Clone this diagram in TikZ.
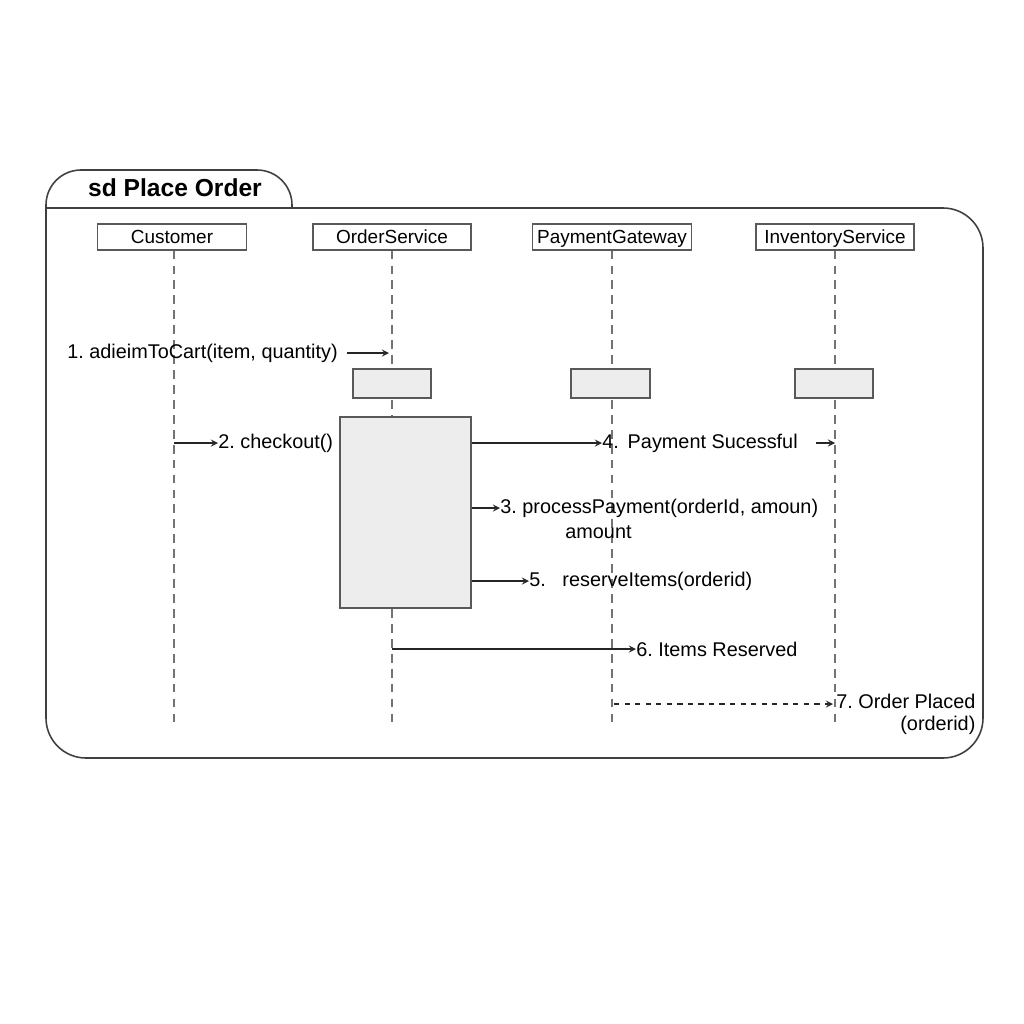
\documentclass[tikz,border=0pt]{standalone}
\usepackage{fontspec}
\setmainfont{Liberation Sans}
\usetikzlibrary{arrows,positioning}
\frenchspacing

\begin{document}
\begin{tikzpicture}[x=0.02cm,y=-0.02cm,>=stealth,
	frame/.style={draw=black!75, line width=0.9pt},
	head/.style={draw=black!65, fill=white, line width=0.7pt, minimum width=#1, minimum height=0.52cm, inner sep=0pt, text height=7.8pt, text depth=0.5pt, font=\fontsize{10.8}{12}\selectfont},
	act/.style={draw=black!65, fill=black!7, line width=0.7pt, inner sep=0pt},
	life/.style={draw=black!55, line width=0.6pt, dash pattern=on 5pt off 3.5pt},
	msg/.style={draw=black!85, line width=0.8pt, ->},
	lbl/.style={anchor=west, inner sep=0pt, font=\fontsize{11.3}{12.5}\selectfont}]
	\useasboundingbox (0,0) rectangle (1024,1024);

	% frame and tab
	\draw [frame, rounded corners=0.7cm] (46,208) -- (46,170) -- (292,170) -- (292,208);
	\draw [frame, rounded corners=0.8cm] (46,208) -- (46,758) -- (983,758) -- (983,208) -- (46,208);
	\node (title) at (175,188) [font=\fontsize{14}{16}\selectfont\bfseries] {sd Place Order};

	% lifelines
	\node (cust) at (172,237) [head=2.98cm] {Customer};
	\node (ordsvc) at (392,237) [head=3.16cm] {OrderService};
	\node (paygw) at (612,237) [head=3.18cm] {PaymentGateway};
	\node (invsvc) at (835,237) [head=3.16cm] {InventoryService};
	\coordinate (cust-end) at (174,725);
	\coordinate (ordsvc-end) at (392,725);
	\coordinate (paygw-end) at (612,725);
	\coordinate (invsvc-end) at (835,725);
	\draw [life] (cust.south -| cust-end) -- (cust-end);
	\draw [life] (ordsvc) -- (ordsvc-end);
	\draw [life] (paygw) -- (paygw-end);
	\draw [life] (invsvc) -- (invsvc-end);

	% activations
	\node (a1) at (392,383.5) [act, minimum width=1.56cm, minimum height=0.58cm] {};
	\node (a2) at (610.5,383.5) [act, minimum width=1.58cm, minimum height=0.58cm] {};
	\node (a3) at (834,383.5) [act, minimum width=1.56cm, minimum height=0.58cm] {};
	\node (a4) at (405.5,512.5) [act, minimum width=2.62cm, minimum height=3.82cm] {};

	% messages
	\node (m1) at (67,353) [lbl] {1. adieimToCart(item, quantity)};
	\coordinate (m1s) at (347,353);
	\coordinate (m1e) at (389,353);
	\draw [msg] (m1s) -- (m1e);

	\coordinate (m2s) at (174,443);
	\node (m2) at (218,443) [lbl] {2. checkout()};
	\draw [msg] (m2s) -- (m2.west);

	\node (m4) at (602,443) [lbl] {4.\ \,Payment Sucessful};
	\draw [msg] (a4.east |- m4) -- (m4.west);
	\coordinate (m4s) at (816,443);
	\coordinate (m4e) at (835,443);
	\draw [msg] (m4s) -- (m4e);

	\node (m3) at (500,508) [lbl] {3. processPayment(orderId, amoun)};
	\node (m3b) at (565,532) [lbl] {amount};
	\draw [msg] (a4.east |- m3) -- (m3.west);

	\node (m5) at (529,581) [lbl] {5.\ \ \ reserveItems(orderid)};
	\draw [msg] (a4.east |- m5) -- (m5.west);

	\coordinate (m6s) at (392,649);
	\node (m6) at (636,649) [lbl] {6. Items Reserved};
	\draw [msg] (m6s) -- (m6.west);

	\coordinate (m7s) at (614,704);
	\node (m7) at (836,704) [lbl, anchor=north west, yshift=0.2cm, align=right] {7. Order Placed\\(orderid)};
	\coordinate (m7e) at (833,704);
	\draw [msg, dashed] (m7s) -- (m7e);
\end{tikzpicture}
\end{document}
